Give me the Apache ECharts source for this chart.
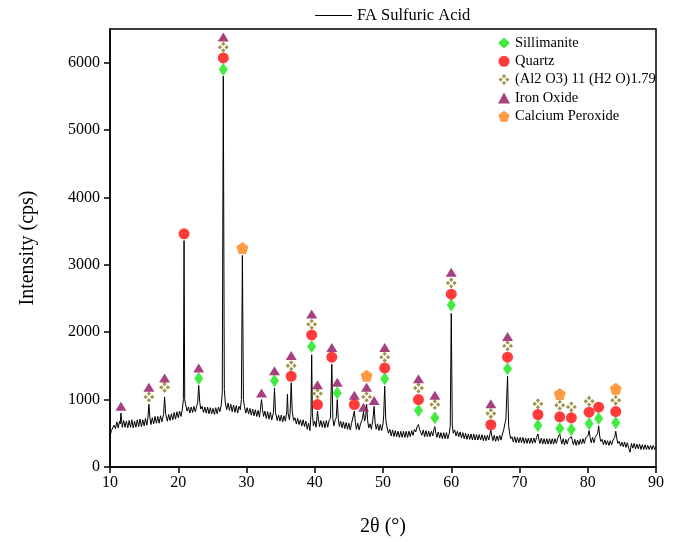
<!DOCTYPE html>
<html>
<head>
<meta charset="utf-8">
<script src="https://cdn.jsdelivr.net/npm/echarts@6/dist/echarts.min.js"></script>
<style>html,body{margin:0;padding:0;background:#fff}#c{width:680px;height:542px}</style>
</head>
<body>
<div id="c"></div>
<script>
// XRD pattern: [2θ (°), intensity (cps)]
const pattern = [
[10,450],[10.2,540],[10.4,520],[10.6,620],[10.8,570],
[11,670],[11.2,580],[11.4,680],[11.5,640],[11.6,800],[11.7,690],[11.8,590],
[12,690],[12.2,590],[12.4,680],[12.6,580],[12.8,690],
[13,590],[13.2,700],[13.4,580],[13.6,680],[13.8,590],
[14,700],[14.2,600],[14.4,710],[14.6,600],[14.8,700],
[15,610],[15.2,720],[15.4,620],[15.55,720],[15.7,930],[15.85,730],[16,630],
[16.2,730],[16.4,640],[16.6,750],[16.8,650],
[17,750],[17.2,650],[17.4,760],[17.6,670],[17.85,780],[18,1040],[18.15,790],
[18.4,680],[18.6,780],[18.8,690],
[19,790],[19.2,700],[19.4,810],[19.6,710],[19.8,820],
[20,730],[20.2,830],[20.4,750],[20.6,860],[20.75,1000],[20.85,3360],[20.95,1000],[21.1,920],
[21.3,830],[21.5,890],[21.7,800],[21.9,890],
[22.1,810],[22.3,900],[22.5,820],[22.7,900],[22.85,960],[23,1210],[23.15,960],[23.3,860],
[23.5,900],[23.7,810],[23.9,890],
[24.1,800],[24.3,890],[24.5,790],[24.7,880],[24.9,790],
[25.1,870],[25.3,780],[25.5,880],[25.7,790],[25.9,890],
[26.1,820],[26.3,920],[26.45,1100],[26.6,5800],[26.75,1150],[26.9,950],
[27.1,850],[27.3,950],[27.5,840],[27.7,930],[27.9,820],
[28.1,920],[28.3,810],[28.5,910],[28.7,800],[28.9,900],
[29.1,850],[29.25,1000],[29.4,3140],[29.55,1000],[29.7,900],[29.9,800],
[30.1,880],[30.3,790],[30.5,870],[30.7,770],[30.9,860],
[31.1,760],[31.3,850],[31.5,750],[31.7,840],[31.9,740],
[32.05,860],[32.2,1000],[32.35,850],[32.5,750],[32.7,830],[32.9,720],
[33.1,820],[33.3,710],[33.5,810],[33.7,700],[33.95,810],[34.1,1170],[34.25,810],
[34.5,690],[34.7,770],[34.9,680],
[35.1,770],[35.3,670],[35.5,760],[35.7,680],[35.9,820],[36,1080],[36.1,790],[36.3,700],[36.4,830],[36.55,1250],[36.7,830],[36.9,690],
[37.1,730],[37.3,640],[37.5,720],[37.7,630],[37.9,700],
[38.1,610],[38.3,700],[38.5,600],[38.7,680],[38.9,560],
[39.1,650],[39.3,540],[39.45,790],[39.55,1665],[39.65,800],[39.8,610],
[40,680],[40.2,590],[40.4,830],[40.55,700],[40.7,600],[40.9,690],
[41.1,590],[41.3,680],[41.5,580],[41.7,690],[41.9,590],
[42.1,690],[42.3,720],[42.5,1525],[42.65,720],[42.8,610],[43,700],[43.15,730],[43.3,1000],[43.45,720],[43.6,600],[43.8,680],
[44,580],[44.2,670],[44.4,570],[44.6,660],[44.8,560],
[45,650],[45.2,550],[45.4,650],[45.6,670],[45.8,830],[45.95,660],[46.1,560],
[46.3,650],[46.5,550],[46.7,640],[46.9,690],[47,730],[47.15,820],[47.3,680],[47.45,730],[47.6,930],[47.75,690],[47.9,580],
[48.1,640],[48.3,560],[48.5,690],[48.7,900],[48.85,650],[49,560],
[49.2,640],[49.4,540],[49.6,630],[49.8,540],[50,640],[50.1,760],[50.25,1200],[50.4,710],[50.55,610],
[50.8,500],[51,560],[51.2,460],[51.4,550],[51.6,450],[51.8,540],
[52,450],[52.2,530],[52.4,440],[52.6,530],[52.8,440],
[53,530],[53.2,440],[53.4,530],[53.6,440],[53.8,530],
[54,450],[54.2,540],[54.4,470],[54.6,560],[54.8,520],[55,600],[55.2,630],[55.35,560],[55.5,580],[55.7,470],
[55.9,550],[56.1,450],[56.3,540],[56.5,450],[56.7,530],[56.9,450],
[57.1,530],[57.3,460],[57.45,560],[57.6,600],[57.75,500],[57.9,440],
[58.1,520],[58.3,430],[58.5,510],[58.7,420],[58.9,510],
[59.1,420],[59.3,510],[59.5,420],[59.7,500],[59.85,600],[60,2280],[60.15,620],[60.3,500],
[60.5,550],[60.7,460],[60.9,530],
[61.1,450],[61.3,520],[61.5,430],[61.7,510],[61.9,420],
[62.1,500],[62.3,410],[62.5,490],[62.7,410],[62.9,490],
[63.1,400],[63.3,490],[63.5,400],[63.7,480],[63.9,400],
[64.1,480],[64.3,400],[64.5,480],[64.7,390],[64.9,470],
[65.1,390],[65.3,470],[65.5,400],[65.65,480],[65.8,545],[65.95,460],[66.1,390],
[66.3,470],[66.5,380],[66.7,460],[66.9,390],
[67.1,470],[67.3,400],[67.5,490],[67.7,560],[67.85,640],[68,700],[68.25,1350],[68.4,620],[68.55,500],[68.7,420],[68.9,450],
[69.1,370],[69.3,450],[69.5,360],[69.7,440],[69.9,360],
[70.1,440],[70.3,360],[70.5,440],[70.7,350],[70.9,430],
[71.1,350],[71.3,430],[71.5,350],[71.7,430],[71.9,350],
[72.1,430],[72.3,360],[72.5,440],[72.7,490],[72.85,400],[73,350],
[73.2,430],[73.4,340],[73.6,420],[73.8,340],[74,420],
[74.2,340],[74.4,420],[74.6,340],[74.8,420],[75,340],
[75.2,420],[75.4,350],[75.6,430],[75.75,420],[75.9,490],[76.05,410],[76.2,340],
[76.4,420],[76.6,330],[76.8,410],[77,340],[77.2,420],[77.45,410],[77.6,450],[77.75,390],[77.9,330],
[78.1,410],[78.3,320],[78.5,400],[78.7,330],[78.9,410],
[79.1,340],[79.3,420],[79.5,350],[79.7,430],[79.9,410],[80.05,470],[80.2,540],[80.35,440],[80.5,360],
[80.7,440],[80.9,360],[81.1,440],[81.3,430],[81.45,500],[81.6,610],[81.75,460],[81.9,380],
[82.1,410],[82.3,330],[82.5,400],[82.7,330],[82.9,390],
[83.1,320],[83.3,390],[83.5,330],[83.7,400],[83.95,440],[84.1,530],[84.25,430],[84.4,350],
[84.6,380],[84.8,310],[85,370],
[85.2,300],[85.4,370],[85.6,290],[85.8,360],[86,280],
[86.2,220],[86.4,350],[86.6,280],[86.8,350],[87,270],
[87.2,340],[87.4,270],[87.6,340],[87.8,260],[88,330],
[88.2,260],[88.4,330],[88.6,260],[88.8,320],[89,260],
[89.2,320],[89.4,260],[89.6,320],[89.8,260],[90,300]
];

// Phase identification markers: [2θ, marker height]
const sillimanite = [[23,1315],[26.6,5900],[34.1,1281],[39.55,1787],[43.3,1099],[50.25,1310],[55.2,838],[57.6,730],[60,2405],[68.25,1458],[72.7,617],[75.9,573],[77.6,558],[80.2,642],[81.6,720],[84.1,656]];
const quartz = [[20.85,3460],[26.6,6070],[36.55,1345],[39.55,1960],[40.4,927],[42.5,1630],[45.8,927],[50.25,1468],[55.2,1000],[60,2565],[65.8,627],[68.25,1630],[72.7,779],[75.9,745],[77.6,730],[80.2,814],[81.6,887],[84.1,823]];
const alumina = [[15.7,1040],[18,1182],[26.6,6230],[36.55,1502],[39.55,2117],[40.4,1089],[47.6,1040],[50.25,1630],[55.2,1173],[57.6,927],[60,2730],[65.8,794],[68.25,1797],[72.7,937],[75.9,917],[77.6,892],[80.2,976],[84.1,991]];
const ironOxide = [[11.6,902],[15.7,1182],[18,1320],[23,1468],[26.6,6380],[32.2,1099],[34.1,1428],[36.55,1655],[39.55,2269],[40.4,1222],[42.5,1772],[43.3,1256],[45.8,1065],[47.15,887],[47.6,1182],[48.7,986],[50.25,1775],[55.2,1310],[57.6,1065],[60,2890],[65.8,937],[68.25,1935]];
const calciumPeroxide = [[29.4,3250],[47.6,1354],[75.9,1084],[84.1,1162]];

const seriesNames = ['FA Sulfuric Acid','Sillimanite','Quartz','(Al2 O3) 11 (H2 O)1.79','Iron Oxide','Calcium Peroxide'];

const FONT = "'Liberation Serif','Times New Roman',serif";
const crossPath = 'path://M5,0L7,2L5,4L3,2Z M8,3L10,5L8,7L6,5Z M5,6L7,8L5,10L3,8Z M2,3L4,5L2,7L0,5Z';
const pentaPath = 'path://M5,0L10,3.8L8.1,10L1.9,10L0,3.8Z';

const chart = echarts.init(document.getElementById('c'), null, {renderer:'canvas'});
chart.setOption({
  animation: false,
  backgroundColor: '#fff',
  grid: {left:110, right:24, top:29, bottom:72, show:true, borderColor:'#000', borderWidth:1.5, backgroundColor:'transparent'},
  legend: [
    {data:[{name:seriesNames[0], icon:'rect'}], left:310, top:2, itemWidth:37, itemHeight:1.2, itemGap:5,
     itemStyle:{color:'#000'},
     textStyle:{fontFamily:FONT, fontSize:16.5, color:'#000'}},
    {data:seriesNames.slice(1), orient:'vertical', left:493, top:30, itemWidth:12, itemHeight:11, itemGap:2.3,
     textStyle:{fontFamily:FONT, fontSize:14.5, color:'#000', lineHeight:16}}
  ],
  xAxis: {
    type:'value', min:10, max:90, interval:10,
    name:'2θ (°)', nameLocation:'middle', nameGap:50,
    nameTextStyle:{fontFamily:FONT, fontSize:20, color:'#000'},
    axisLine:{lineStyle:{color:'#000', width:1.5}},
    axisTick:{show:true, inside:false, length:6, lineStyle:{color:'#000', width:1.5}},
    axisLabel:{fontFamily:FONT, fontSize:16, color:'#000', margin:8},
    splitLine:{show:false}
  },
  yAxis: {
    type:'value', min:0, max:6500, interval:1000,
    name:'Intensity (cps)', nameLocation:'middle', nameGap:72,
    nameTextStyle:{fontFamily:FONT, fontSize:20, color:'#000'},
    axisLine:{show:true, lineStyle:{color:'#000', width:1.5}},
    axisTick:{show:true, inside:false, length:6, lineStyle:{color:'#000', width:1.5}},
    axisLabel:{fontFamily:FONT, fontSize:16, color:'#000', margin:10, showMaxLabel:false, formatter:(v)=>String(v)},
    splitLine:{show:false}
  },
  series: [
    {name:seriesNames[0], type:'line', data:pattern, symbol:'none', lineStyle:{color:'#000', width:1}, itemStyle:{color:'#000'}, z:2},
    {name:seriesNames[1], type:'scatter', data:sillimanite, symbol:'diamond', symbolSize:[9,13], itemStyle:{color:'#11e611'}, z:3},
    {name:seriesNames[2], type:'scatter', data:quartz, symbol:'circle', symbolSize:11, itemStyle:{color:'#ff0a0a'}, z:3},
    {name:seriesNames[3], type:'scatter', data:alumina, symbol:crossPath, symbolSize:11, itemStyle:{color:'#8a7a1e'}, z:3},
    {name:seriesNames[4], type:'scatter', data:ironOxide, symbol:'triangle', symbolSize:[11,9], itemStyle:{color:'#8e125f'}, z:3},
    {name:seriesNames[5], type:'scatter', data:calciumPeroxide, symbol:pentaPath, symbolSize:12, itemStyle:{color:'#ff8214'}, z:3}
  ]
});
</script>
</body>
</html>
